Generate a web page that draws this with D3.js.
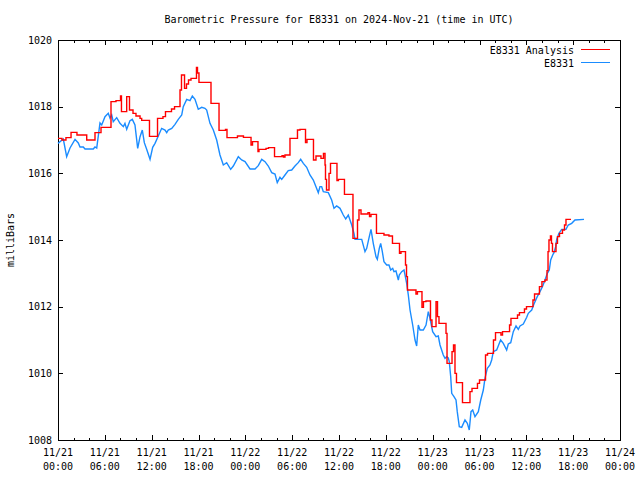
<!DOCTYPE html>
<html>
<head>
<meta charset="utf-8">
<script src="https://cdn.jsdelivr.net/npm/d3@7"></script>
<style>
  html, body { margin: 0; padding: 0; background: #fff; }
  svg { display: block; }
  text { font-family: "DejaVu Sans Mono", "Liberation Mono", monospace; font-size: 10px; fill: #000; }
</style>
</head>
<body>
<svg id="chart" width="640" height="480"></svg>
<script>
// ---- DATA ----
const chartTitle = "Barometric Pressure for E8331 on 2024-Nov-21 (time in UTC)";
const yLabel = "milliBars";
const seriesNames = ["E8331 Analysis", "E8331"];
const yTicks = [1008, 1010, 1012, 1014, 1016, 1018, 1020];
const xTickHours = [0, 6, 12, 18, 24, 30, 36, 42, 48, 54, 60, 66, 72];
const xTickDates = ["11/21","11/21","11/21","11/21","11/22","11/22","11/22","11/22","11/23","11/23","11/23","11/23","11/24"];
const xTickTimes = ["00:00","06:00","12:00","18:00","00:00","06:00","12:00","18:00","00:00","06:00","12:00","18:00","00:00"];

// hours since 2024-11-21 00:00 UTC
const analysisHours = [0,0.51,1.02,1.67,2.43,3.68,4.74,5.51,6.79,7.43,8.01,8.13,8.80,9.16,9.61,9.99,10.51,10.72,11.72,12.75,13.45,13.77,14.54,14.93,15.63,15.82,16.21,16.46,16.72,17.04,17.74,17.87,18.06,19.60,20.63,21.46,21.65,22.99,23.76,24.73,24.92,25.62,25.75,26.65,26.97,27.74,28.70,28.89,29.08,29.72,30.68,31.00,31.71,31.90,32.73,33.05,33.69,34.01,34.21,34.27,34.40,34.72,34.91,35.74,35.93,36.70,37.79,38.37,38.56,38.82,39.71,39.91,40.10,40.80,41.76,42.40,42.85,43.75,43.94,44.52,44.65,44.77,45.86,46.05,46.63,46.82,47.14,47.72,47.91,48.43,48.62,48.81,49.71,49.84,50.48,50.67,50.86,51.05,51.82,52.78,53.04,53.74,54.00,54.77,55.03,55.79,56.05,56.75,56.95,57.85,58.03,58.87,59.12,59.76,60.02,60.85,61.05,61.68,62.00,62.39,62.65,62.78,62.90,63.09,63.22,63.35,63.80,63.99,64.25,64.63,64.89,65.08,65.72];
const analysisPressure = [1017.05,1017.00,1017.07,1017.23,1017.15,1017.00,1017.22,1017.38,1018.15,1018.18,1018.32,1017.85,1018.30,1017.90,1017.80,1017.72,1017.65,1017.59,1017.11,1017.65,1017.70,1017.85,1017.93,1018.00,1018.50,1018.95,1018.55,1018.68,1018.80,1018.85,1019.18,1019.01,1018.73,1018.10,1017.29,1017.32,1017.07,1017.12,1017.08,1016.85,1016.95,1016.65,1016.72,1016.75,1016.77,1016.50,1016.53,1016.49,1016.55,1017.05,1017.30,1017.32,1016.92,1017.02,1016.40,1016.52,1016.45,1016.60,1016.25,1015.82,1015.50,1016.00,1016.30,1015.78,1015.82,1015.37,1014.05,1014.60,1014.90,1014.78,1014.82,1014.70,1014.77,1014.20,1014.15,1014.12,1013.90,1013.60,1013.65,1013.25,1012.90,1012.50,1012.38,1012.45,1011.98,1012.15,1012.17,1011.60,1011.40,1012.15,1011.70,1011.50,1011.20,1010.30,1010.65,1010.85,1010.00,1009.72,1009.12,1009.45,1009.55,1009.70,1009.80,1010.55,1010.60,1011.00,1011.22,1011.15,1011.25,1011.45,1011.65,1011.75,1011.82,1011.93,1012.00,1012.20,1012.38,1012.60,1012.75,1012.80,1013.08,1013.65,1014.00,1014.12,1013.90,1013.65,1013.90,1014.10,1014.20,1014.30,1014.45,1014.62,1014.62];

const obsHours = [0,0.68,1.11,1.54,2.18,2.60,2.82,3.24,3.46,4.52,4.74,4.96,5.38,5.60,6.02,6.44,6.66,6.88,7.08,7.52,7.94,8.37,8.58,8.80,9.22,9.52,9.86,10.21,10.51,10.80,11.06,11.36,11.79,12.13,12.43,12.85,13.28,13.71,13.93,14.13,14.57,14.99,15.41,15.85,16.05,16.49,16.91,17.21,17.55,17.97,18.41,18.83,19.05,19.47,19.90,20.33,20.75,21.18,21.61,22.12,22.46,23.10,23.53,23.96,24.60,25.24,25.66,26.10,26.52,26.94,27.38,27.80,28.09,28.44,28.66,29.08,29.50,29.94,30.36,30.78,31.09,31.43,31.86,32.28,32.71,33.05,33.35,33.56,33.78,33.99,34.63,35.06,35.36,35.70,36.13,36.55,36.86,37.19,37.63,37.92,38.05,38.91,39.33,39.55,39.88,40.10,40.39,40.74,40.91,41.16,41.34,41.55,41.76,42.11,42.40,42.62,42.88,43.04,43.30,43.60,43.72,44.03,44.33,44.46,44.67,44.88,45.10,45.44,45.74,45.95,46.16,46.38,46.80,47.15,47.44,47.66,48.00,48.43,48.72,48.94,49.36,49.58,49.80,50.00,50.13,50.31,50.44,50.73,50.99,51.15,51.41,51.72,52.14,52.44,52.69,52.91,53.13,53.42,53.85,54.16,54.49,54.70,55.00,55.34,55.56,55.77,56.20,56.54,56.71,57.05,57.48,57.69,58.00,58.33,58.68,58.97,59.19,59.61,60.05,60.25,60.69,60.98,61.40,61.75,62.10,62.39,62.69,62.94,63.12,63.38,63.54,63.76,63.89,64.18,64.53,65.08,65.37,65.81,66.23,67.39];
const obsPressure = [1016.90,1017.03,1016.50,1016.76,1017.02,1016.91,1016.79,1016.79,1016.73,1016.73,1016.79,1016.76,1017.51,1017.45,1017.70,1017.80,1017.66,1017.75,1017.55,1017.67,1017.50,1017.40,1017.50,1017.32,1017.58,1017.62,1017.45,1016.75,1017.10,1017.30,1016.92,1016.72,1016.42,1016.78,1016.90,1017.12,1017.35,1017.30,1017.22,1017.30,1017.35,1017.47,1017.62,1017.75,1018.00,1018.22,1018.18,1018.32,1018.22,1017.92,1017.98,1017.95,1017.90,1017.50,1017.30,1017.00,1016.55,1016.25,1016.32,1016.12,1016.22,1016.50,1016.40,1016.35,1016.13,1016.13,1016.23,1016.42,1016.35,1016.22,1016.02,1015.98,1015.72,1015.88,1015.82,1015.95,1016.08,1016.10,1016.22,1016.32,1016.42,1016.30,1016.18,1015.95,1015.80,1015.60,1015.42,1015.60,1015.60,1015.45,1015.42,1015.20,1014.95,1015.02,1014.95,1014.75,1014.63,1014.75,1014.45,1014.20,1014.02,1014.02,1013.65,1013.75,1014.10,1014.32,1013.90,1013.50,1013.42,1013.75,1013.90,1013.65,1013.35,1013.25,1013.25,1013.10,1013.15,1013.05,1013.07,1012.80,1012.95,1013.05,1013.10,1012.95,1012.70,1012.35,1011.90,1011.45,1011.00,1010.82,1011.45,1011.30,1011.30,1011.45,1011.85,1011.65,1011.25,1011.10,1011.12,1010.85,1010.55,1010.45,1010.50,1010.46,1010.35,1009.90,1009.40,1009.30,1009.20,1008.85,1008.40,1008.38,1008.60,1008.50,1008.30,1008.85,1008.90,1008.70,1008.85,1009.20,1009.50,1009.85,1010.15,1010.25,1010.40,1010.65,1010.70,1010.90,1011.00,1010.90,1010.70,1010.88,1010.92,1011.25,1011.42,1011.32,1011.42,1011.48,1011.68,1011.80,1011.90,1012.08,1012.30,1012.45,1012.62,1012.80,1013.00,1013.10,1013.40,1013.55,1013.62,1013.80,1014.02,1014.20,1014.32,1014.32,1014.45,1014.50,1014.60,1014.62];

const seriesColors = ["#ff0000", "#1a8cff"];

// ---- CHART ----
const start = Date.UTC(2024, 10, 21, 0, 0);
const toDate = h => new Date(start + h * 3600000);

const svg = d3.select("#chart");
const L = 58, R = 620, T = 40, B = 440;

const x = d3.scaleUtc().domain([toDate(0), toDate(72)]).range([L, R]);
const y = d3.scaleLinear().domain([1008, 1020]).range([B, T]);

const g = svg.append("g").attr("shape-rendering", "crispEdges");

// minor ticks every 2 h
const minorTicks = d3.range(0, 73, 2).filter(h => h % 6 !== 0).map(toDate);
const majorTicks = xTickHours.map(toDate);

function styleAxis(sel) {
  sel.select(".domain").remove();
  sel.selectAll("line").attr("stroke", "#000");
}

g.append("g").attr("transform", `translate(0,${B})`)
  .call(d3.axisBottom(x).tickValues(majorTicks).tickSize(-5).tickSizeOuter(0).tickFormat(""))
  .call(styleAxis);
g.append("g").attr("transform", `translate(0,${B})`)
  .call(d3.axisBottom(x).tickValues(minorTicks).tickSize(-2.5).tickSizeOuter(0).tickFormat(""))
  .call(styleAxis);
g.append("g").attr("transform", `translate(0,${T})`)
  .call(d3.axisTop(x).tickValues(majorTicks).tickSize(-5).tickSizeOuter(0).tickFormat(""))
  .call(styleAxis);
g.append("g").attr("transform", `translate(0,${T})`)
  .call(d3.axisTop(x).tickValues(minorTicks).tickSize(-2.5).tickSizeOuter(0).tickFormat(""))
  .call(styleAxis);

const yl = g.append("g").attr("transform", `translate(${L},0)`)
  .call(d3.axisLeft(y).tickValues(yTicks).tickSize(-5).tickSizeOuter(0).tickPadding(6).tickFormat(d3.format("d")))
  .call(styleAxis);
yl.selectAll("text").attr("font-family", null).attr("font-size", null).attr("fill", "#000");
g.append("g").attr("transform", `translate(${R},0)`)
  .call(d3.axisRight(y).tickValues(yTicks).tickSize(-5).tickSizeOuter(0).tickFormat(""))
  .call(styleAxis);

// frame
g.append("rect").attr("x", L).attr("y", T).attr("width", R - L).attr("height", B - T)
  .attr("fill", "none").attr("stroke", "#000");

// x tick labels (two lines)
const xl = svg.append("g");
xTickHours.forEach((h, i) => {
  const t = xl.append("text").attr("x", x(toDate(h))).attr("text-anchor", "middle");
  t.append("tspan").attr("x", x(toDate(h))).attr("y", 456).text(xTickDates[i]);
  t.append("tspan").attr("x", x(toDate(h))).attr("y", 470).text(xTickTimes[i]);
});

// title and y label
svg.append("text").attr("x", (L + R) / 2).attr("y", 23).attr("text-anchor", "middle").text(chartTitle);
svg.append("text").attr("transform", `translate(14,${(T + B) / 2}) rotate(-90)`)
  .attr("text-anchor", "middle").text(yLabel);

// data lines
const redData = analysisHours.map((h, i) => ({ t: toDate(h), v: analysisPressure[i] }));
const blueData = obsHours.map((h, i) => ({ t: toDate(h), v: obsPressure[i] }));

const stepLine = d3.line().x(d => x(d.t)).y(d => y(d.v)).curve(d3.curveStepAfter);
const plainLine = d3.line().x(d => x(d.t)).y(d => y(d.v));

svg.append("path").datum(blueData).attr("d", plainLine)
  .attr("fill", "none").attr("stroke", seriesColors[1]).attr("stroke-width", 1.4)
  .attr("stroke-linejoin", "miter");
svg.append("path").datum(redData).attr("d", stepLine)
  .attr("fill", "none").attr("stroke", seriesColors[0]).attr("stroke-width", 1.4)
  .attr("stroke-linejoin", "miter");

// legend
const leg = svg.append("g");
seriesNames.forEach((name, i) => {
  const yy = 50 + i * 13;
  leg.append("text").attr("x", 574).attr("y", yy + 3.5).attr("text-anchor", "end").text(name);
  leg.append("line").attr("x1", 581).attr("x2", 610).attr("y1", yy - 0.5).attr("y2", yy - 0.5)
    .attr("stroke", seriesColors[i]).attr("stroke-width", 1).attr("shape-rendering", "crispEdges");
});
</script>
</body>
</html>
